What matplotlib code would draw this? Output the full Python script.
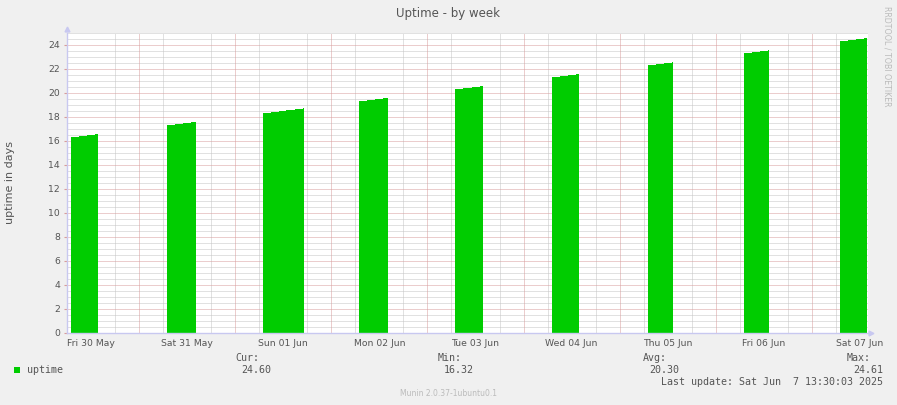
import matplotlib
matplotlib.use("Agg")
from matplotlib import pyplot as plt
from matplotlib.ticker import MultipleLocator, FixedLocator

# hours counted from Fri 30 May 00:00
day_labels = ["Fri 30 May", "Sat 31 May", "Sun 01 Jun", "Mon 02 Jun", "Tue 03 Jun",
              "Wed 04 Jun", "Thu 05 Jun", "Fri 06 Jun", "Sat 07 Jun"]
label_hours = [12, 36, 60, 84, 108, 132, 156, 180, 204]

# uptime samples (hour, days) for each block of data
bar_hours = [
    [7, 9, 11, 13, 13.75],
    [31, 33, 35, 37, 38.25],
    [55, 57, 59, 60.75, 63, 65, 65.25],
    [79, 81, 83, 85, 86.25],
    [103, 105, 107, 109, 109.75],
    [127, 129, 131, 133, 133.75],
    [151, 153, 155, 157, 157.25],
    [175, 177, 179, 181, 181.25],
    [199, 201, 203, 205, 205.75],
]
bar_days = [
    [16.32, 16.40, 16.49, 16.58, 16.60],
    [17.32, 17.40, 17.49, 17.57, 17.62],
    [18.32, 18.42, 18.50, 18.58, 18.67, 18.75, 18.76],
    [19.32, 19.40, 19.49, 19.57, 19.62],
    [20.32, 20.40, 20.49, 20.57, 20.60],
    [21.32, 21.40, 21.49, 21.57, 21.60],
    [22.32, 22.40, 22.49, 22.57, 22.59],
    [23.32, 23.40, 23.49, 23.57, 23.59],
    [24.32, 24.40, 24.49, 24.57, 24.61],
]
stat_names = ["Cur:", "Min:", "Avg:", "Max:"]
stat_values = ["24.60", "16.32", "20.30", "24.61"]
t_start, t_end = 6, 206

plt.rcParams["lines.scale_dashes"] = False

W, H = 897, 405
fig = plt.figure(figsize=(W / 100, H / 100), dpi=100, facecolor="#f0f0f0")
ax = fig.add_axes([67 / W, 1 - 333 / H, 801 / W, 300 / H], facecolor="white")

txt = "#555555"
green = "#00cc00"
minor_c = "#c4c4c4"
major_c = "#d89c9c"
axis_c = "#c8c8f0"
dots = dict(linestyle=(0, (0.72, 0.72)), linewidth=0.72)

for hrs, vals in zip(bar_hours, bar_days):
    ax.fill_between(hrs, 0, vals, step="post", color=green, linewidth=0, zorder=3)

ax.set_xlim(t_start, t_end)
ax.set_ylim(0, 25)

# grid: 0.5 day / 6 h minor, 2 days / midnight major
ax.yaxis.set_major_locator(MultipleLocator(2))
ax.yaxis.set_minor_locator(MultipleLocator(0.5))
ax.xaxis.set_minor_locator(FixedLocator([h for h in range(t_start, t_end, 6) if h % 24]))
ax.grid(which="minor", axis="both", color=minor_c, zorder=1, **dots)
ax.grid(which="major", axis="y", color=major_c, zorder=2, **dots)
for h in range(24, t_end, 24):
    ax.axvline(h, color=major_c, zorder=2, **dots)
ax.set_axisbelow(True)

ax.set_xticks(label_hours)
ax.set_xticklabels(day_labels)
ax.tick_params(axis="x", which="both", length=0, labelsize=6.7, labelcolor=txt, pad=4)
ax.tick_params(axis="y", which="major", length=2, color=major_c, labelsize=6.7, labelcolor=txt, pad=3)
ax.tick_params(axis="y", which="minor", length=0)

for s in ["top", "right"]:
    ax.spines[s].set_visible(False)
for s in ["left", "bottom"]:
    ax.spines[s].set_color(axis_c)
    ax.spines[s].set_linewidth(1)
    ax.spines[s].set_zorder(4)
ax.plot([0], [1.015], marker="^", markersize=3.5, color=axis_c, transform=ax.transAxes, clip_on=False)
ax.plot([1.004], [0], marker=">", markersize=3.5, color=axis_c, transform=ax.transAxes, clip_on=False)

# labels
fig.text(448 / W, 1 - 14 / H, "Uptime - by week", ha="center", va="center", fontsize=8.5, color=txt)
fig.text(10 / W, 1 - 183 / H, "uptime in days", ha="center", va="center", rotation=90, fontsize=8, color=txt)
fig.text(887 / W, 1 - 56 / H, "RRDTOOL / TOBI OETIKER", ha="center", va="center", rotation=-90,
         fontsize=5.7, color="#bbbbbb")

mono = dict(family="DejaVu Sans Mono", fontsize=7.2, color=txt)
fig.patches.append(plt.Rectangle((14 / W, 1 - 373 / H), 6 / W, 6 / H, transform=fig.transFigure,
                                 facecolor=green, edgecolor="none"))
fig.text(27 / W, 1 - 370 / H, "uptime", ha="left", va="center", **mono)
stat_x = [259, 462, 667, 871]
for x, name, val in zip(stat_x, stat_names, stat_values):
    fig.text(x / W, 1 - 358 / H, name, ha="right", va="center", **mono)
    fig.text((x + 12) / W, 1 - 370 / H, val, ha="right", va="center", **mono)
fig.text(883 / W, 1 - 382 / H, "Last update: Sat Jun  7 13:30:03 2025", ha="right", va="center", **mono)
fig.text(448 / W, 1 - 394 / H, "Munin 2.0.37-1ubuntu0.1", ha="center", va="center", fontsize=5.5, color="#bbbbbb")

fig.savefig("out.png", dpi=100, facecolor=fig.get_facecolor())
